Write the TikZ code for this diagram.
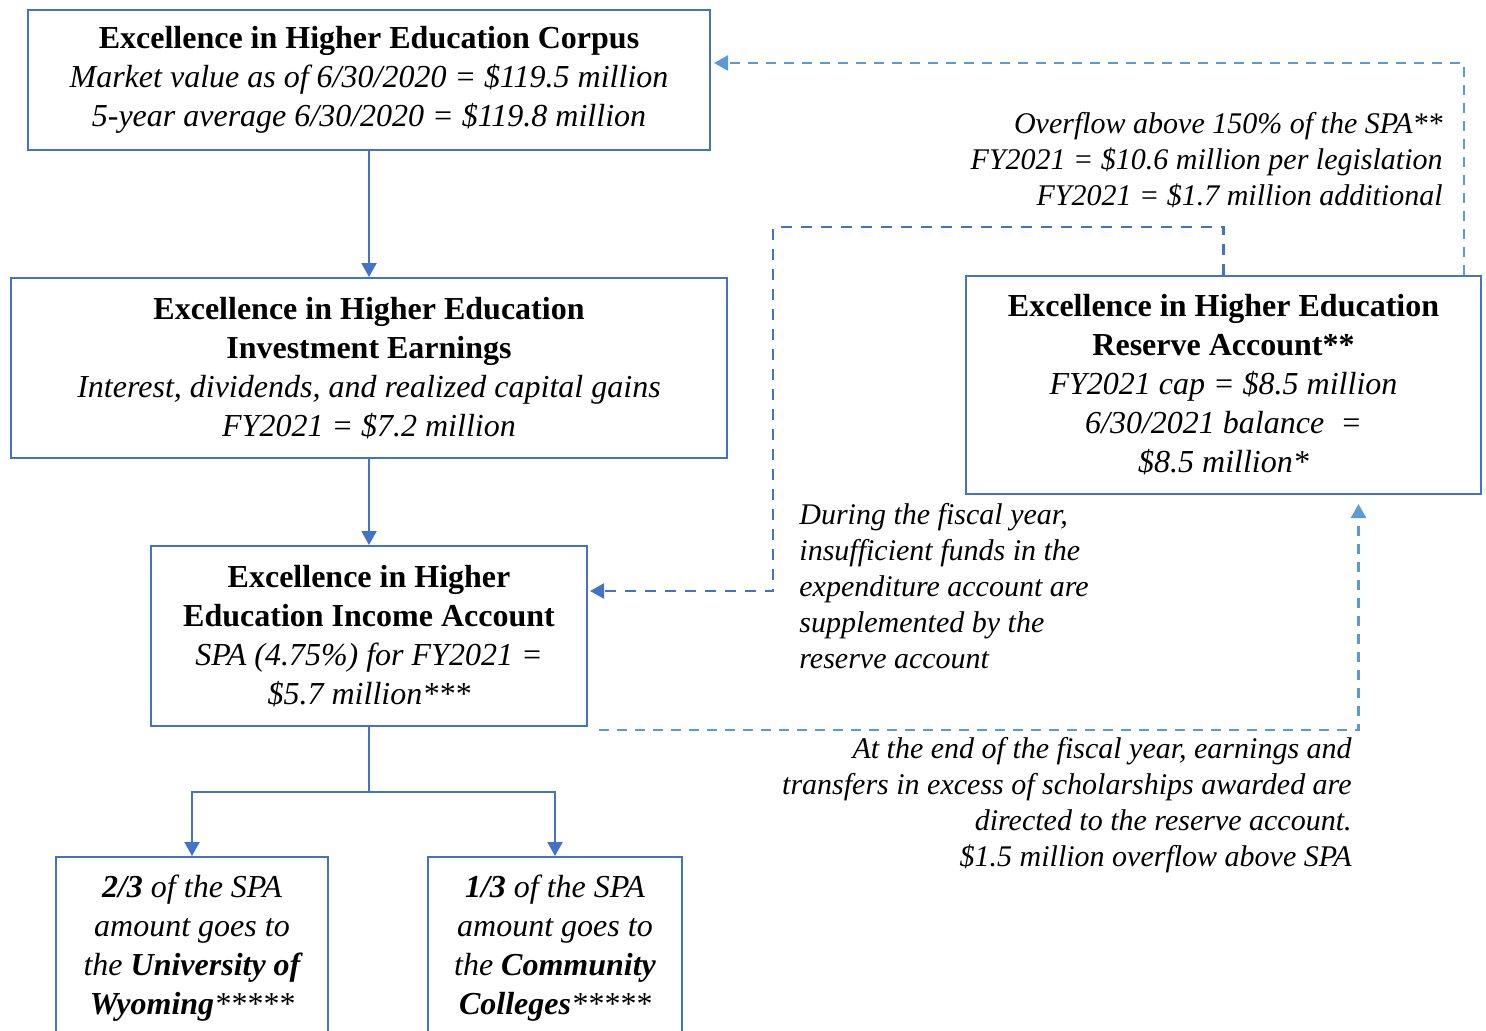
\documentclass[tikz,border=0pt]{standalone}
\usepackage{fontspec}
\setmainfont{Liberation Serif}
\usetikzlibrary{calc, arrows.meta}

\definecolor{boxblue}{HTML}{4472C4}
\definecolor{lightblue}{HTML}{5B9BD5}

\tikzset{
	box/.style = {draw = boxblue, line width = 1pt, align = center, inner sep = 0pt,
		font = \fontsize{16}{19.5}\selectfont},
	itbox/.style = {box, font = \fontsize{16}{19.5}\selectfont\itshape},
	note/.style = {inner sep = 0pt, font = \fontsize{15}{18}\selectfont\itshape},
	tip/.style = {-{Triangle[length = 7pt, width = 7.5pt]}},
	conn/.style = {tip, draw = boxblue, line width = 1pt},
	dashdark/.style = {tip, draw = boxblue, line width = 1.2pt, dash pattern = on 5.5pt off 4.5pt},
	dashlight/.style = {tip, draw = lightblue, line width = 1.2pt, dash pattern = on 5pt off 4pt}
}

\begin{document}
\begin{tikzpicture}[x = 0.5pt, y = -0.5pt]
	\useasboundingbox (0, 0) rectangle (1486, 1030);
	\clip (0, 0) rectangle (1486, 1030);

	% boxes
	\node[box, minimum width = 341pt, minimum height = 70pt] (corpus) at (369, 80)
		{\textbf{Excellence in Higher Education Corpus}\\
		 \textit{Market value as of 6/30/2020 = \$119.5 million}\\
		 \textit{5-year average 6/30/2020 = \$119.8 million}};
	\node[box, minimum width = 358pt, minimum height = 90pt] (earnings) at (369, 368)
		{\textbf{Excellence in Higher Education}\\
		 \textbf{Investment Earnings}\\
		 \textit{Interest, dividends, and realized capital gains}\\
		 \textit{FY2021 = \$7.2 million}};
	\node[box, minimum width = 218pt, minimum height = 90pt] (income) at (369, 636)
		{\textbf{Excellence in Higher}\\
		 \textbf{Education Income Account}\\
		 \textit{SPA (4.75\%) for FY2021 =}\\
		 \textit{\$5.7 million***}};
	\node[box, minimum width = 257.5pt, minimum height = 109pt] (reserve) at (1223.5, 385)
		{\textbf{Excellence in Higher Education}\\
		 \textbf{Reserve Account**}\\
		 \textit{FY2021 cap = \$8.5 million}\\
		 \textit{6/30/2021 balance\ \ =}\\
		 \textit{\$8.5 million*}};
	\node[itbox, minimum width = 136pt, minimum height = 91pt] (uw) at (192, 948)
		{\textbf{2/3} of the SPA\\
		 amount goes to\\
		 the \textbf{University of}\\
		 \textbf{Wyoming}*****};
	\node[itbox, minimum width = 127pt, minimum height = 91pt] (cc) at (555, 948)
		{\textbf{1/3} of the SPA\\
		 amount goes to\\
		 the \textbf{Community}\\
		 \textbf{Colleges}*****};

	% notes
	\node[note, anchor = east, align = right] (overflow) at (1443, 160)
		{Overflow above 150\% of the SPA**\\
		 FY2021 = \$10.6 million per legislation\\
		 FY2021 = \$1.7 million additional};
	\node[note, anchor = west, align = left] (during) at (799, 586)
		{During the fiscal year,\\
		 insufficient funds in the\\
		 expenditure account are\\
		 supplemented by the\\
		 reserve account};
	\node[note, anchor = east, align = right] (yearend) at (1352, 805)
		{At the end of the fiscal year, earnings and\\
		 transfers in excess of scholarships awarded are\\
		 directed to the reserve account.\\
		 \$1.5 million overflow above SPA};

	% solid flow
	\draw[conn] (corpus) -- (earnings);
	\draw[conn] (earnings) -- (income);
	\draw[conn] (income.south) -- ++(0, 65) -| (uw.north);
	\draw[conn] (income.south) -- ++(0, 65) -| (cc.north);

	% dashed flow
	\draw[dashdark] (reserve.north) |- (773, 227) |- ($(income.east) + (2, -45)$);
	\draw[dashlight] ($(reserve.north east) + (-18, 0)$) |- ($(corpus.east) + (3, -17)$);
	\draw[dashlight] ($(income.south east) + (11, 3)$) -| ($(reserve.south) + (135, 9)$);
\end{tikzpicture}
\end{document}
